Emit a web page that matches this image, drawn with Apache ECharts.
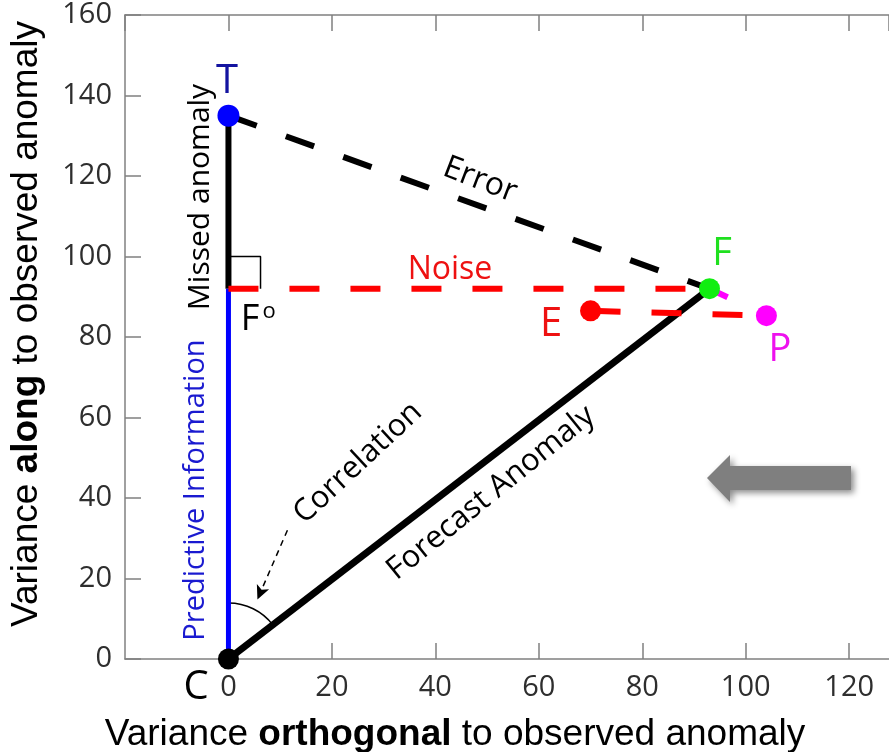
<!DOCTYPE html>
<html>
<head>
<meta charset="utf-8">
<script src="https://cdn.jsdelivr.net/npm/echarts@6/dist/echarts.min.js"></script>
<style>
html,body{margin:0;padding:0;background:#fff;}
#main{width:889px;height:752px;}
</style>
</head>
<body>
<div id="main"></div>
<script>
// ---- data ----
const pointNames = ['C', 'T', 'F', 'P', 'E'];
const pointX = [0, 0, 93, 104, 70];
const pointY = [0, 135, 92, 85.3, 86.5];
const pointColors = ['#000000', '#0000ff', '#11ee11', '#ff00ff', '#ff0000'];
const foPoint = [0, 92];
const rightAngleX = [0, 6.2, 6.2];
const rightAngleY = [100, 100, 92];
const arrowFrom = [11.4, 32];
const arrowTo = [5.6, 14.8];
const xTicks = [0, 20, 40, 60, 80, 100, 120];
const yTicks = [0, 20, 40, 60, 80, 100, 120, 140, 160];

function P(name) { const i = pointNames.indexOf(name); return [pointX[i], pointY[i]]; }

const chart = echarts.init(document.getElementById('main'), null, {renderer: 'canvas'});

const axisColor = '#808080';
const tickFont = {fontSize: 29, color: '#2e2e2e', fontFamily: 'Open Sans'};

function seg(data, color, width, type, z) {
  return {
    type: 'line', data: data, symbol: 'none', silent: true, z: z || 2,
    lineStyle: {color: color, width: width, type: type || 'solid', cap: 'butt', opacity: 1},
    animation: false
  };
}

const series = [
  seg([P('T'), P('F')], '#000000', 6, [30, 31], 2),
  seg([P('C'), P('F')], '#000000', 7, 'solid', 3),
  seg([P('T'), foPoint], '#000000', 6, 'solid', 3),
  seg([P('C'), foPoint], '#0000ff', 5, 'solid', 3),
  seg([foPoint, P('F')], '#ff0000', 6, [30, 31], 4),
  seg([P('E'), P('P')], '#ff0000', 6, [30, 31], 4),
  seg([P('F'), P('P')], '#ff00ff', 6, [20, 40], 4),
  seg(rightAngleX.map((x, i) => [x, rightAngleY[i]]), '#000000', 1.5, 'solid', 2),
  {
    type: 'custom', silent: true, z: 3, animation: false,
    data: [[0, 0]],
    renderItem: function (params, api) {
      const c = api.coord([0, 0]);
      const f = api.coord(P('F'));
      const ang = Math.atan2(f[1] - c[1], f[0] - c[0]);
      return {
        type: 'arc',
        shape: {cx: c[0], cy: c[1], r: 56, startAngle: -Math.PI / 2, endAngle: ang, clockwise: true},
        style: {stroke: '#000', lineWidth: 1.5, fill: null}
      };
    }
  },
  {
    type: 'line', data: [], silent: true, animation: false,
    markLine: {
      silent: true, animation: false,
      symbol: ['none', 'arrow'], symbolSize: [10, 14],
      label: {show: false},
      lineStyle: {color: '#000', width: 1.5, type: [6, 5]},
      data: [[{coord: arrowFrom}, {coord: arrowTo}]]
    }
  },
  {
    type: 'scatter', silent: true, z: 10, animation: false,
    symbolSize: 21,
    itemStyle: {opacity: 1},
    data: pointNames.map((n, i) => ({value: [pointX[i], pointY[i]], itemStyle: {color: pointColors[i], opacity: 1}, symbolSize: n === 'T' ? 22 : 21}))
  }
];

const annoFont = 'Open Sans';
function txt(text, x, y, size, color, rot, extra) {
  return Object.assign({
    type: 'text', x: x, y: y, rotation: (rot || 0) * Math.PI / 180, z: 100,
    style: {text: text, fontSize: size, fill: color, fontFamily: annoFont, align: 'center', verticalAlign: 'middle'}
  }, extra || {});
}

const option = {
  backgroundColor: '#ffffff',
  animation: false,
  grid: {left: 125, right: 0, top: 15, bottom: 93, containLabel: false},
  xAxis: [{
    type: 'value', min: -20, max: 127.7, interval: 20, position: 'bottom',
    axisLine: {show: true, onZero: false, lineStyle: {color: axisColor, width: 1.5}},
    axisTick: {show: true, inside: true, length: 16, lineStyle: {color: axisColor, width: 1.5}},
    axisLabel: Object.assign({margin: 14, showMinLabel: false, showMaxLabel: false,
      formatter: v => (xTicks.indexOf(v) >= 0 ? String(v) : '')}, tickFont),
    splitLine: {show: false}
  }, {
    type: 'value', min: -20, max: 127.7, interval: 20, position: 'top',
    axisLine: {show: true, onZero: false, lineStyle: {color: axisColor, width: 1.5}},
    axisTick: {show: true, inside: true, length: 16, lineStyle: {color: axisColor, width: 1.5}},
    axisLabel: {show: false},
    splitLine: {show: false}
  }],
  yAxis: [{
    type: 'value', min: 0, max: 160, interval: 20, position: 'left',
    axisLine: {show: true, onZero: false, lineStyle: {color: axisColor, width: 1.5}},
    axisTick: {show: true, inside: true, length: 16, lineStyle: {color: axisColor, width: 1.5}},
    axisLabel: Object.assign({margin: 13, formatter: v => (yTicks.indexOf(v) >= 0 ? String(v) : '')}, tickFont),
    splitLine: {show: false}
  }],
  series: series,
  graphic: [
    // axis names
    {
      type: 'text', x: 455, y: 735, z: 100,
      style: {
        text: '{n|Variance }{b|orthogonal}{n| to observed anomaly}',
        align: 'center', verticalAlign: 'middle',
        rich: {
          n: {fontSize: 37, fontFamily: 'Liberation Sans', fill: '#000'},
          b: {fontSize: 37, fontFamily: 'Liberation Sans', fontWeight: 'bold', fill: '#000'}
        }
      }
    },
    {
      type: 'text', x: 27, y: 324, rotation: Math.PI / 2, z: 100,
      style: {
        text: '{n|Variance }{b|along}{n| to observed anomaly}',
        align: 'center', verticalAlign: 'middle',
        rich: {
          n: {fontSize: 37, fontFamily: 'Liberation Sans', fill: '#000'},
          b: {fontSize: 37, fontFamily: 'Liberation Sans', fontWeight: 'bold', fill: '#000'}
        }
      }
    },
    // point labels
    txt('T', 227, 82, 40, '#1414a0'),
    txt('F', 722, 254, 38, '#1fe01f'),
    txt('P', 780, 350, 38, '#ee11ee'),
    txt('E', 551, 325, 40, '#ee1111'),
    txt('C', 196, 688, 40, '#000000'),
    txt('F', 250, 320, 36, '#000000'),
    txt('o', 269, 312, 22, '#000000'),
    // line labels
    txt('Error', 480, 180, 32, '#000000', -21),
    txt('Noise', 450, 270, 32, '#ee1111'),
    txt('Missed anomaly', 200, 197, 30, '#000000', 90),
    txt('Predictive Information', 196, 490, 29, '#1a1ad0', 90),
    txt('Correlation', 358, 463, 31, '#000000', 43),
    txt('Forecast Anomaly', 491, 493, 31, '#000000', 39),
    // gray arrow
    {
      type: 'polygon', z: 50,
      shape: {points: [[707, 478], [730, 455], [730, 466], [851, 466], [851, 490], [730, 490], [730, 502]]},
      style: {fill: '#7f7f7f', shadowBlur: 6, shadowColor: 'rgba(0,0,0,0.45)', shadowOffsetX: 3, shadowOffsetY: 3}
    }
  ]
};
chart.setOption(option);
</script>
</body>
</html>
